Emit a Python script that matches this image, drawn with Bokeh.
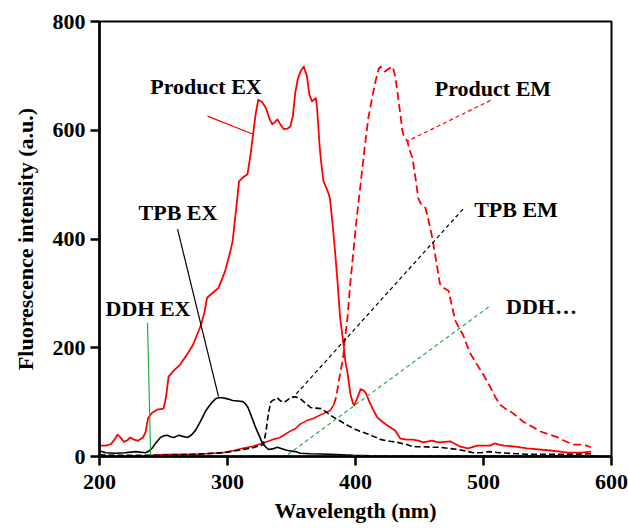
from bokeh.plotting import figure
from bokeh.models import Range1d, FixedTicker, ColumnDataSource
from bokeh.embed import file_html
from bokeh.resources import INLINE
from bokeh.core.properties import value

# ---------------- data ----------------
product_ex_x = [200, 205, 209, 212, 214, 216, 219, 222, 224, 227, 230, 234, 236, 238, 241, 245, 250, 252, 254,
                258, 263, 268, 273, 279, 282, 284, 289, 293, 298, 302, 304, 307, 309, 312, 315.6, 318, 320, 322,
                324, 327, 330, 333, 335, 337, 339, 341, 344, 347, 349, 351, 353, 355, 357, 359.5, 362, 364, 366,
                368, 369, 370, 372, 373, 375, 378, 380, 382, 384, 386, 388, 391, 392, 394, 396, 398, 399, 401,
                404, 406, 408, 411, 414, 417, 421, 425, 431, 435, 440, 445, 449, 453, 457, 460, 463, 466, 470,
                474, 478, 482, 488, 495, 502, 505, 509, 512, 516, 525, 534, 543, 552, 560, 566, 576, 584]
product_ex_y = [20, 20, 23, 32, 40, 36, 27, 30, 35, 31, 29, 35, 45, 71, 80, 86, 88, 110, 147,
                158, 169, 186, 205, 240, 265, 292, 302, 310, 340, 375, 396, 460, 506, 513, 519, 555, 593, 630,
                656, 652, 641, 620, 611, 615, 620, 612, 602, 603, 607, 625, 670, 695, 708, 717, 700, 665, 653,
                657, 659, 640, 570, 545, 506, 490, 475, 430, 378, 320, 255, 200, 176, 150, 115, 98, 94, 105,
                124, 122, 117, 100, 85, 72, 64, 57, 48, 33, 31, 31, 29, 26, 28, 29, 27, 26, 27,
                28, 23, 18, 15, 20, 20, 20, 24, 22, 20, 18, 15, 13, 11, 9, 7, 7, 9]

product_em_x = [235, 245, 260, 275, 290, 296, 305, 312, 320, 327, 335, 341, 345, 350, 353, 357, 362, 367, 373,
                380, 383, 385, 387, 389, 390, 392, 393.7, 396, 398.4, 401, 404, 407, 410, 413, 415.6, 418,
                419.5, 421, 423, 426, 429, 431, 433, 435, 436.7, 438, 440.6, 442, 444.5, 447, 449, 451, 454.7,
                457, 460, 463, 466, 469, 472.7, 475, 478, 481, 484, 487, 490, 495, 500, 505.5, 509, 513, 517,
                521, 526, 531, 538, 544.5, 551, 558, 564, 570, 578, 584]
product_em_y = [1, 3, 4, 4, 6, 7, 11, 15, 19, 24, 31, 35, 41, 48, 51, 60, 66, 70, 77,
                84, 95, 110, 139, 165, 176, 220, 255, 320, 378, 440, 501, 565, 622, 660, 690, 712,
                717, 713, 708, 713, 717, 700, 666, 630, 598, 588, 580, 565, 549, 510, 475, 465, 457,
                435, 402, 360, 317, 310, 305, 280, 250, 236, 224, 205, 188, 169, 150, 127, 110, 95, 88,
                83, 74, 64, 55, 46, 41, 35, 28, 22, 22, 17]

tpb_ex_x = [200, 205, 212, 220, 228, 236, 238, 241, 244, 247.6, 250, 253, 256, 258, 260, 262, 265, 269, 272,
            275, 279, 283, 287, 290.6, 293, 296, 300, 304, 308, 312, 314, 316, 319, 322, 325, 327, 330, 332,
            335, 339, 343, 347, 353, 357, 365, 380, 398, 420, 450, 500, 550, 590]
tpb_ex_y = [10, 7, 6, 7, 9, 7, 9, 15, 25, 35, 38, 39, 36, 35, 37, 39, 37, 35, 40,
            48, 65, 84, 97, 106, 108, 108, 106, 103, 102, 101, 97, 90, 72, 53, 37, 26, 17, 13,
            14, 17, 14, 11, 9, 6, 5, 4, 2, 1, 1, 1, 1, 1]

tpb_em_x = [200, 220, 240, 260, 275, 290, 300, 310, 318, 324, 328, 330, 332, 334, 336, 339, 341, 344, 347,
            349, 353, 357, 361, 365, 369, 373, 377, 383, 389, 394, 398, 402, 405, 409, 414, 420, 427, 433,
            440, 445, 452, 459, 466, 472, 480, 484, 492, 498, 505, 512, 519, 527, 534, 552, 570, 584]
tpb_em_y = [3, 2, 2, 3, 4, 6, 8, 12, 15, 19, 22, 45, 80, 101, 104, 108, 103, 99, 104,
            108, 110, 106, 98, 90, 89, 88, 82, 72, 64, 57, 52, 48, 45, 42, 37, 31, 28, 26,
            22, 18, 18, 17, 17, 15, 13, 11, 7, 7, 9, 7, 6, 5, 4, 4, 4, 5]

ddh_ex_x = [240, 260, 280, 300, 320, 340]
ddh_ex_y = [1, 1, 1, 1, 1, 1]

ddh_em_x = [340, 400, 450, 500, 550, 590]
ddh_em_y = [1, 1, 1, 1, 1, 1]

# annotation labels and their leader lines (data coordinates)
label_text = ["Product EX", "Product EM", "TPB EX", "TPB EM", "DDH EX", "DDH\u2026"]
label_x = [283.2, 507.4, 261.3, 525.4, 237.9, 545.3]
label_y = [681, 677, 449, 454, 272, 276]
leader_x0 = [284.4, 505.5, 261, 484, 237.5, 504]
leader_y0 = [626, 655, 418, 455, 246, 275]
leader_x1 = [319.5, 440.6, 293, 351, 240, 345]
leader_y1 = [593, 580, 110, 108, 0, 0]

x_title = "Wavelength (nm)"
y_title = "Fluorescence intensity (a.u.)"

RED = "#ff0000"
BLACK = "#000000"
GREEN = "#1fae4b"
FONT = "Liberation Serif"

p = figure(width=628, height=528, output_backend="svg", toolbar_location=None,
           x_range=Range1d(200, 600), y_range=Range1d(0, 800),
           min_border_left=99, min_border_right=17, min_border_top=21, min_border_bottom=72,
           background_fill_color="white", border_fill_color="white")
p.grid.visible = False
p.outline_line_color = "black"
p.outline_line_width = 2

# curves (the low, dense part of Product EM renders solid in the reference)
split = 20
p.line(product_ex_x, product_ex_y, line_color=RED, line_width=1.8, line_join="round")
p.line(product_em_x[:split + 1], product_em_y[:split + 1], line_color=RED, line_width=1.6, line_join="round")
p.line(product_em_x[split:], product_em_y[split:], line_color=RED, line_width=1.8, line_dash="8 4",
       line_join="round")
p.line(tpb_ex_x, tpb_ex_y, line_color=BLACK, line_width=1.6, line_join="round")
p.line(tpb_em_x, tpb_em_y, line_color=BLACK, line_width=1.6, line_dash="6 3", line_join="round")
p.line(ddh_ex_x, ddh_ex_y, line_color=GREEN, line_width=1.6)
p.line(ddh_em_x, ddh_em_y, line_color=GREEN, line_width=1.6, line_dash="6 3")

# leader lines
lead_colors = [RED, RED, BLACK, BLACK, GREEN, GREEN]
lead_dash = ["solid", "4 3", "solid", "4 3", "solid", "4 3"]
for i in range(len(label_text)):
    p.segment(x0=[leader_x0[i]], y0=[leader_y0[i]], x1=[leader_x1[i]], y1=[leader_y1[i]],
              line_color=lead_colors[i], line_width=1.2, line_dash=lead_dash[i])

src = ColumnDataSource(dict(x=label_x, y=label_y, t=label_text))
p.text(x="x", y="y", text="t", source=src, text_font=value(FONT), text_font_style="bold",
       text_font_size="22px", text_align="center", text_baseline="middle", text_color="black")

# axes
p.xaxis.ticker = FixedTicker(ticks=[200, 300, 400, 500, 600])
p.yaxis.ticker = FixedTicker(ticks=[0, 200, 400, 600, 800])
for ax in (p.xaxis[0], p.yaxis[0]):
    ax.axis_line_width = 2.5
    ax.major_tick_line_width = 2.5
    ax.major_tick_out = 9
    ax.major_tick_in = 0
    ax.minor_tick_line_color = None
    ax.major_label_text_font = FONT
    ax.major_label_text_font_style = "bold"
    ax.major_label_text_font_size = "22px"
    ax.major_label_text_color = "black"
    ax.axis_label_text_font = FONT
    ax.axis_label_text_font_style = "bold"
    ax.axis_label_text_font_size = "22px"
    ax.axis_label_text_color = "black"
p.xaxis.axis_label = x_title
p.yaxis.axis_label = y_title
p.xaxis.major_label_standoff = 9
p.xaxis.axis_label_standoff = 6
p.yaxis.major_label_standoff = 5
p.yaxis.axis_label_standoff = 12

open("out.html", "w").write(file_html(p, INLINE))
